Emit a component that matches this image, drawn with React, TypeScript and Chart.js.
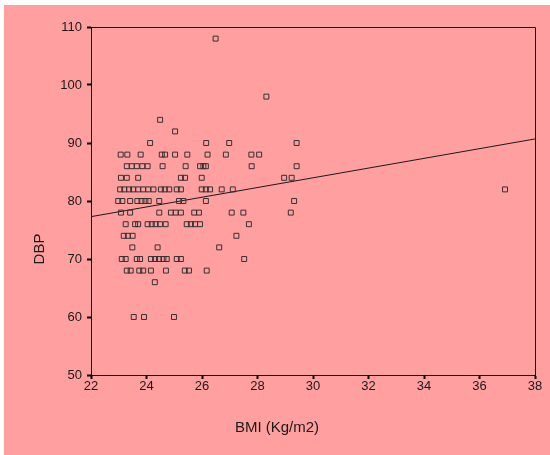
import React, { useEffect, useRef } from "react";
import { Chart, registerables } from "chart.js";

Chart.register(...registerables);

// BMI values (x) grouped by DBP level (y)
const bmiAt108 = [26.49];
const bmiAt98 = [28.32];
const bmiAt94 = [24.49];
const bmiAt92 = [25.03];
const bmiAt90 = [24.13, 26.15, 26.98, 29.41];
const bmiAt88 = [23.07, 23.31, 23.79, 24.55, 24.67, 25.03, 25.47, 26.2, 26.86, 27.78, 28.06];
const bmiAt86 = [23.29, 23.47, 23.65, 23.85, 24.04, 24.58, 25.41, 25.93, 26.05, 26.14, 27.79, 29.41];
const bmiAt84 = [23.08, 23.29, 23.7, 25.24, 25.39, 25.99, 28.96, 29.23];
const bmiAt82 = [23.05, 23.2, 23.37, 23.52, 23.7, 23.88, 24.06, 24.25, 24.52, 24.66, 24.82, 25.09, 25.24, 25.99, 26.14, 26.29, 26.71, 27.11, 36.92];
const bmiAt80 = [22.98, 23.13, 23.41, 23.67, 23.82, 23.96, 24.08, 24.46, 25.17, 25.33, 26.14, 29.32];
const bmiAt78 = [23.08, 23.41, 24.46, 24.88, 25.05, 25.24, 25.72, 25.89, 27.07, 27.49, 29.2];
const bmiAt76 = [23.25, 23.59, 23.7, 24.04, 24.19, 24.33, 24.49, 24.69, 25.45, 25.6, 25.75, 25.93, 27.69];
const bmiAt74 = [23.18, 23.33, 23.5, 27.24];
const bmiAt72 = [23.49, 24.4, 26.62];
const bmiAt70 = [23.11, 23.25, 23.65, 23.77, 24.16, 24.31, 24.45, 24.61, 24.73, 25.09, 25.24, 27.52];
const bmiAt68 = [23.29, 23.43, 23.74, 23.88, 24.16, 24.7, 25.38, 25.53, 26.17];
const bmiAt66 = [24.3];
const bmiAt60 = [23.54, 23.91, 24.99];

const dbpRows: [number, number[]][] = [
  [108, bmiAt108], [98, bmiAt98], [94, bmiAt94], [92, bmiAt92], [90, bmiAt90],
  [88, bmiAt88], [86, bmiAt86], [84, bmiAt84], [82, bmiAt82], [80, bmiAt80],
  [78, bmiAt78], [76, bmiAt76], [74, bmiAt74], [72, bmiAt72], [70, bmiAt70],
  [68, bmiAt68], [66, bmiAt66], [60, bmiAt60],
];

// Fit line endpoints
const fitBmi = [22, 38];
const fitDbp = [77.3, 90.7];

const xTicks = [22, 24, 26, 28, 30, 32, 34, 36, 38];
const yTicks = [50, 60, 70, 80, 90, 100, 110];

const xTitle = "BMI (Kg/m2)";
const yTitle = "DBP";

const PINK = "#ff9f9f";
const FONT = '"Liberation Sans", Arial, sans-serif';

export default function App() {
  const ref = useRef<HTMLCanvasElement>(null);

  useEffect(() => {
    document.body.style.margin = "0";
    const canvas = ref.current;
    if (!canvas) return;

    const points = dbpRows.flatMap(([dbp, xs]) => xs.map((x) => ({ x, y: dbp })));
    const fitPoints = fitBmi.map((x, i) => ({ x, y: fitDbp[i] }));

    const background = {
      id: "bg",
      beforeDraw(chart: any) {
        const ctx = chart.ctx;
        ctx.save();
        ctx.fillStyle = "#ffffff";
        ctx.fillRect(0, 0, chart.width, chart.height);
        ctx.fillStyle = PINK;
        ctx.fillRect(4, 5, chart.width - 4, chart.height - 5);
        ctx.restore();
      },
    };

    const frame = {
      id: "frame",
      afterDraw(chart: any) {
        const ctx = chart.ctx;
        const { left, top, right, bottom } = chart.chartArea;
        ctx.save();
        ctx.strokeStyle = "#000";
        ctx.lineWidth = 1;
        ctx.beginPath();
        ctx.moveTo(Math.round(left) + 0.5, Math.round(top) + 0.5);
        ctx.lineTo(Math.round(right) + 0.5, Math.round(top) + 0.5);
        ctx.lineTo(Math.round(right) + 0.5, Math.round(bottom) + 0.5);
        ctx.stroke();
        // axis titles
        ctx.fillStyle = "#1a1a1a";
        ctx.font = `15px ${FONT}`;
        ctx.textAlign = "center";
        ctx.textBaseline = "middle";
        ctx.fillText(xTitle, 277, 428);
        ctx.translate(40, 249);
        ctx.rotate(-Math.PI / 2);
        ctx.fillText(yTitle, 0, 0);
        ctx.restore();
      },
    };

    const chart = new Chart(canvas, {
      type: "scatter",
      data: {
        datasets: [
          {
            type: "scatter",
            data: points,
            pointStyle: "rect",
            pointRadius: 3.5,
            pointHoverRadius: 3.5,
            borderColor: "#333333",
            backgroundColor: "rgba(0,0,0,0)",
            borderWidth: 1,
          } as any,
          {
            type: "line",
            data: fitPoints,
            borderColor: "#1a1a1a",
            borderWidth: 1,
            pointRadius: 0,
            fill: false,
          } as any,
        ],
      },
      options: {
        animation: false,
        responsive: false,
        devicePixelRatio: 1,
        layout: { padding: { top: 27, right: 15, left: 0, bottom: 0 } },
        plugins: { legend: { display: false }, tooltip: { enabled: false } },
        scales: {
          x: {
            type: "linear",
            min: 22,
            max: 38,
            afterBuildTicks(scale: any) {
              scale.ticks = xTicks.map((v) => ({ value: v }));
            },
            afterFit(scale: any) {
              scale.height = 80;
            },
            ticks: {
              color: "#1a1a1a",
              font: { family: FONT, size: 13 },
              padding: 0,
              maxRotation: 0,
              autoSkip: false,
            },
            grid: {
              drawOnChartArea: false,
              drawTicks: true,
              tickLength: 4,
              tickWidth: 2,
              tickColor: "#000",
            },
            border: { color: "#000", width: 1 },
          },
          y: {
            type: "linear",
            min: 50,
            max: 110,
            afterBuildTicks(scale: any) {
              scale.ticks = yTicks.map((v) => ({ value: v }));
            },
            afterFit(scale: any) {
              scale.width = 91;
            },
            ticks: {
              color: "#1a1a1a",
              font: { family: FONT, size: 13 },
              padding: 5,
              autoSkip: false,
            },
            grid: {
              drawOnChartArea: false,
              drawTicks: true,
              tickLength: 4,
              tickWidth: 2,
              tickColor: "#000",
            },
            border: { color: "#000", width: 1 },
          },
        },
      } as any,
      plugins: [background, frame],
    });

    return () => chart.destroy();
  }, []);

  return (
    <div style={{ position: "absolute", left: 0, top: 0 }}>
      <canvas ref={ref} width={550} height={455} style={{ display: "block", width: 550, height: 455 }} />
    </div>
  );
}
